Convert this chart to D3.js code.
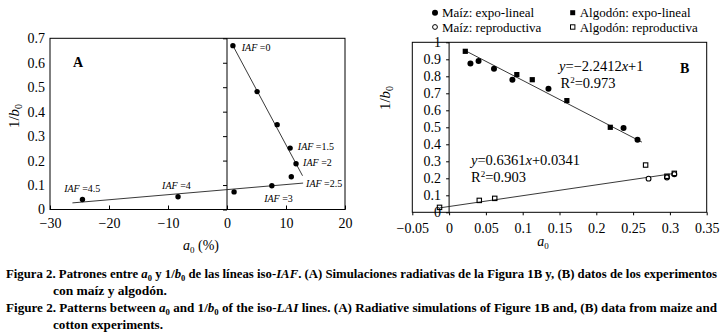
<!DOCTYPE html>
<html><head><meta charset="utf-8">
<script src="https://cdn.jsdelivr.net/npm/d3@7"></script>
<style>
html,body{margin:0;padding:0;background:#fff;}
svg{display:block;}
</style></head>
<body><svg id="c" width="724" height="334"></svg>
<script>
// ---------- Panel A data ----------
const aX = [1.0, 5.1, 8.5, 10.7, 11.7, 10.9, 7.6, 1.2, -8.3, -24.5];
const aY = [0.67, 0.482, 0.347, 0.251, 0.187, 0.134, 0.097, 0.072, 0.052, 0.041];
const aLine1X = [1.0, 12.8], aLine1Y = [0.67, 0.138];
const aLine2X = [-26.2, 12.9], aLine2Y = [0.027, 0.108];
const aLabels = ["=0", "=1.5", "=2", "=2.5", "=3", "=4", "=4.5"];
const aLabelX = [2.5, 12.0, 12.9, 13.4, 6.3, -11.0, -27.6];
const aLabelY = [0.661, 0.257, 0.194, 0.105, 0.047, 0.099, 0.085];
const aXTicks = [-30, -20, -10, 0, 10, 20];
const aYTicks = [0, 0.1, 0.2, 0.3, 0.4, 0.5, 0.6, 0.7];

// ---------- Panel B data ----------
const maizExpoX = [0.029, 0.040, 0.061, 0.086, 0.135, 0.237, 0.256];
const maizExpoY = [0.876, 0.890, 0.845, 0.780, 0.727, 0.496, 0.427];
const algExpoX = [0.022, 0.092, 0.113, 0.160, 0.219];
const algExpoY = [0.947, 0.810, 0.780, 0.657, 0.500];
const maizRepX = [0.271, 0.296, 0.306];
const maizRepY = [0.198, 0.205, 0.224];
const algRepX = [-0.013, 0.041, 0.062, 0.267, 0.296, 0.306];
const algRepY = [0.029, 0.070, 0.082, 0.278, 0.212, 0.229];
const fit1 = {m: -2.2412, b: 1, x0: 0.022, x1: 0.262};
const fit2 = {m: 0.6361, b: 0.0341, x0: -0.013, x1: 0.306};
const bXTicks = [-0.05, 0, 0.05, 0.1, 0.15, 0.2, 0.25, 0.3, 0.35];
const bYTicks = [0, 0.1, 0.2, 0.3, 0.4, 0.5, 0.6, 0.7, 0.8, 0.9, 1];
const legendNames = ["Maíz: expo-lineal", "Algodón: expo-lineal", "Maíz: reproductiva", "Algodón: reproductiva"];

const FONT = '"Liberation Serif", "Times New Roman", serif';
const svg = d3.select("#c").attr("font-family", FONT);
const fmt = d => String(+d.toFixed(2)).replace("-", "−");
function styleAxis(g, size) {
  g.attr("font-family", FONT).attr("font-size", size);
  g.selectAll("text").attr("font-family", FONT).attr("font-size", size).attr("fill", "#000");
  g.selectAll("line").attr("stroke", "#000");
}

// =============== PANEL A ===============
const xA = d3.scaleLinear().domain([-30, 20]).range([50, 345]);
const yA = d3.scaleLinear().domain([0, 0.7]).range([209.5, 38.3]);
const gA = svg.append("g");
gA.append("rect").attr("x", xA(-30)).attr("y", yA(0.7)).attr("width", xA(20) - xA(-30))
  .attr("height", yA(0) - yA(0.7)).attr("fill", "none").attr("stroke", "#000").attr("stroke-width", 1);
const axA = gA.append("g").attr("transform", `translate(0,${yA(0)})`)
  .call(d3.axisBottom(xA).tickValues(aXTicks).tickSizeInner(-4).tickSizeOuter(0).tickPadding(9).tickFormat(fmt));
axA.select(".domain").remove();
styleAxis(axA, 14);
const ayT = gA.append("g").attr("transform", `translate(${xA(0)},0)`)
  .call(d3.axisLeft(yA).tickValues(aYTicks).tickSizeInner(4).tickSizeOuter(0).tickFormat(""));
ayT.select(".domain").attr("d", `M0,${yA(0.7)}V${yA(0)}`).attr("stroke", "#000");
const ayL = gA.append("g").attr("transform", `translate(${xA(-30)},0)`)
  .call(d3.axisLeft(yA).tickValues(aYTicks).tickSize(0).tickPadding(5).tickFormat(fmt));
ayL.select(".domain").remove();
styleAxis(ayL, 14);
const lnA = d3.line().x(d => xA(d[0])).y(d => yA(d[1]));
gA.append("path").attr("d", lnA(d3.zip(aLine1X, aLine1Y))).attr("stroke", "#222").attr("stroke-width", 0.9).attr("fill", "none");
gA.append("path").attr("d", lnA(d3.zip(aLine2X, aLine2Y))).attr("stroke", "#222").attr("stroke-width", 0.9).attr("fill", "none");
gA.selectAll("circle.p").data(d3.zip(aX, aY)).join("circle").attr("class", "p")
  .attr("cx", d => xA(d[0])).attr("cy", d => yA(d[1])).attr("r", 2.7).attr("fill", "#000");
const lab = gA.selectAll("text.iaf").data(d3.zip(aLabels, aLabelX, aLabelY)).join("text").attr("class", "iaf")
  .attr("x", d => xA(d[1])).attr("y", d => yA(d[2])).attr("dy", "0.35em")
  .attr("font-size", 10).attr("font-style", "italic");
lab.append("tspan").text("IAF ");
lab.append("tspan").attr("font-style", "normal").text(d => d[0]);
gA.append("text").attr("x", 73).attr("y", 66.5).attr("font-size", 14).attr("font-weight", "bold").text("A");
const ytA = gA.append("text").attr("transform", "translate(19,116) rotate(-90)").attr("text-anchor", "middle").attr("font-size", 15);
ytA.append("tspan").text("1/");
ytA.append("tspan").attr("font-style", "italic").text("b");
ytA.append("tspan").attr("font-size", 10).attr("dy", 3).text("0");
const xtA = gA.append("text").attr("x", 201).attr("y", 250).attr("text-anchor", "middle").attr("font-size", 14);
xtA.append("tspan").attr("font-style", "italic").text("a");
xtA.append("tspan").attr("font-size", 9).attr("dy", 3).text("0");
xtA.append("tspan").attr("dy", -3).text(" (%)");

// =============== PANEL B ===============
const xB = d3.scaleLinear().domain([-0.05, 0.35]).range([412.3, 706.7]);
const yB = d3.scaleLinear().domain([0, 1]).range([212.3, 42.3]);
const gB = svg.append("g");
gB.append("rect").attr("x", xB(-0.05)).attr("y", yB(1)).attr("width", xB(0.35) - xB(-0.05))
  .attr("height", yB(0) - yB(1)).attr("fill", "none").attr("stroke", "#000").attr("stroke-width", 1);
const axB = gB.append("g").attr("transform", `translate(0,${yB(0)})`)
  .call(d3.axisBottom(xB).tickValues(bXTicks).tickSizeInner(3).tickSizeOuter(0).tickPadding(8).tickFormat(fmt));
axB.select(".domain").remove();
styleAxis(axB, 14);
const ayB = gB.append("g").attr("transform", `translate(${xB(0)},0)`)
  .call(d3.axisLeft(yB).tickValues(bYTicks).tickSizeInner(3).tickSizeOuter(0).tickPadding(5).tickFormat(fmt));
ayB.select(".domain").attr("d", `M0,${yB(1)}V${yB(0)}`).attr("stroke", "#000");
styleAxis(ayB, 14);
const lnB = d3.line().x(d => xB(d[0])).y(d => yB(d[1]));
[fit1, fit2].forEach(f => {
  gB.append("path").attr("d", lnB([[f.x0, f.m * f.x0 + f.b], [f.x1, f.m * f.x1 + f.b]]))
    .attr("stroke", "#222").attr("stroke-width", 0.9).attr("fill", "none");
});
gB.selectAll("circle.me").data(d3.zip(maizExpoX, maizExpoY)).join("circle").attr("class", "me")
  .attr("cx", d => xB(d[0])).attr("cy", d => yB(d[1])).attr("r", 3).attr("fill", "#000");
gB.selectAll("rect.ae").data(d3.zip(algExpoX, algExpoY)).join("rect").attr("class", "ae")
  .attr("x", d => xB(d[0]) - 2.6).attr("y", d => yB(d[1]) - 2.6).attr("width", 5.2).attr("height", 5.2).attr("fill", "#000");
gB.selectAll("circle.mr").data(d3.zip(maizRepX, maizRepY)).join("circle").attr("class", "mr")
  .attr("cx", d => xB(d[0])).attr("cy", d => yB(d[1])).attr("r", 2.4).attr("fill", "#fff").attr("stroke", "#000").attr("stroke-width", 1.1);
gB.selectAll("rect.ar").data(d3.zip(algRepX, algRepY)).join("rect").attr("class", "ar")
  .attr("x", d => xB(d[0]) - 2.2).attr("y", d => yB(d[1]) - 2.2).attr("width", 4.4).attr("height", 4.4)
  .attr("fill", "none").attr("stroke", "#000").attr("stroke-width", 1.1);
function eq(x, y, parts) {
  const t = gB.append("text").attr("x", x).attr("y", y).attr("font-size", 14.5);
  parts.forEach(p => { const s = t.append("tspan").text(p[0]); if (p[1]) s.attr(p[1], p[2]); });
  return t;
}
eq(559, 71, [["y", "font-style", "italic"], ["=−2.2412"], ["x", "font-style", "italic"], ["+1"]]);
const r1 = eq(560.5, 87.5, [["R"], ["2", "font-size", 9], ["=0.973"]]);
r1.selectAll("tspan").filter((d, i) => i === 1).attr("dy", -5);
r1.selectAll("tspan").filter((d, i) => i === 2).attr("dy", 5);
eq(471, 165, [["y", "font-style", "italic"], ["=0.6361"], ["x", "font-style", "italic"], ["+0.0341"]]);
const r2 = eq(471, 181.5, [["R"], ["2", "font-size", 9], ["=0.903"]]);
r2.selectAll("tspan").filter((d, i) => i === 1).attr("dy", -5);
r2.selectAll("tspan").filter((d, i) => i === 2).attr("dy", 5);
gB.append("text").attr("x", 680).attr("y", 72.5).attr("font-size", 14).attr("font-weight", "bold").text("B");
const ytB = gB.append("text").attr("transform", "translate(390,98) rotate(-90)").attr("text-anchor", "middle").attr("font-size", 15);
ytB.append("tspan").text("1/");
ytB.append("tspan").attr("font-style", "italic").text("b");
ytB.append("tspan").attr("font-size", 10).attr("dy", 3).text("0");
const xtB = gB.append("text").attr("x", 543).attr("y", 246).attr("text-anchor", "middle").attr("font-size", 14);
xtB.append("tspan").attr("font-style", "italic").text("a");
xtB.append("tspan").attr("font-size", 9).attr("dy", 3).text("0");

// legend
const legX = [435, 572.7, 435, 572.7], legY = [12.7, 12.7, 27, 27];
const lg = svg.append("g");
legendNames.forEach((n, i) => {
  const cx = legX[i], cy = legY[i];
  if (i === 0) lg.append("circle").attr("cx", cx).attr("cy", cy).attr("r", 3).attr("fill", "#000");
  if (i === 1) lg.append("rect").attr("x", cx - 2.5).attr("y", cy - 2.5).attr("width", 5).attr("height", 5).attr("fill", "#000");
  if (i === 2) lg.append("circle").attr("cx", cx).attr("cy", cy).attr("r", 2.4).attr("fill", "none").attr("stroke", "#000").attr("stroke-width", 1);
  if (i === 3) lg.append("rect").attr("x", cx - 2.2).attr("y", cy - 2.2).attr("width", 4.4).attr("height", 4.4).attr("fill", "none").attr("stroke", "#000").attr("stroke-width", 1);
  lg.append("text").attr("x", cx + 7).attr("y", cy).attr("dy", "0.35em").attr("font-size", 13).text(n);
});

// caption
const cap = svg.append("g").attr("font-size", 13.5).attr("font-weight", "bold");
function capLine(x, y, parts, len) {
  const t = cap.append("text").attr("x", x).attr("y", y);
  if (len) t.attr("textLength", len).attr("lengthAdjust", "spacingAndGlyphs");
  parts.forEach(p => {
    const s = t.append("tspan").text(p.t);
    if (p.i) s.attr("font-style", "italic");
    if (p.sub) s.attr("font-size", 9).attr("dy", 3);
    if (p.up) s.attr("dy", -3);
  });
}
capLine(6, 278, [
  {t: "Figura 2. Patrones entre "}, {t: "a", i: 1}, {t: "0", sub: 1}, {t: " y 1/", up: 1}, {t: "b", i: 1}, {t: "0", sub: 1},
  {t: " de las líneas iso-", up: 1}, {t: "IAF", i: 1}, {t: ". (A) Simulaciones radiativas de la Figura 1B y, (B) datos de los experimentos"}
], 711);
capLine(53, 295, [{t: "con maíz y algodón."}], 114);
capLine(6, 312, [
  {t: "Figure 2. Patterns between "}, {t: "a", i: 1}, {t: "0", sub: 1}, {t: " and 1/", up: 1}, {t: "b", i: 1}, {t: "0", sub: 1},
  {t: " of the iso-", up: 1}, {t: "LAI", i: 1}, {t: " lines. (A) Radiative simulations of Figure 1B and, (B) data from maize and"}
], 711);
capLine(53, 329, [{t: "cotton experiments."}], 110);
</script></body></html>
